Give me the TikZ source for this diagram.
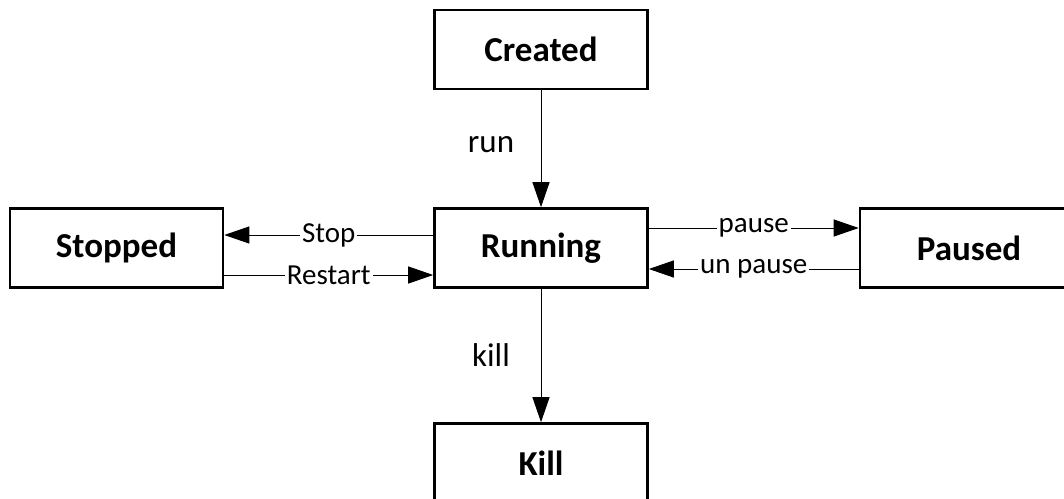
\documentclass[tikz,border=0pt]{standalone}
\usepackage{fontspec}
\setmainfont{Carlito}
\usetikzlibrary{arrows.meta}
\begin{document}
\begin{tikzpicture}[x=1pt,y=-1pt,
  state/.style={draw=black, line width=2.6pt, minimum width=213pt, minimum height=79pt,
    inner sep=0pt, font=\fontsize{35}{40}\selectfont\bfseries},
  arr/.style={line width=1pt, -{Triangle[length=25pt,width=17pt]}},
  elabel/.style={fill=white, inner sep=2pt, font=\fontsize{29}{34}\selectfont},
  vlabel/.style={font=\fontsize{33}{38}\selectfont}]
\useasboundingbox (0,0) rectangle (1064,498);
% states
\node[state] (created) at (541,49.5) {Created};
\node[state] (running) at (541,248) {Running};
\node[state] (stopped) at (116.5,248) {Stopped};
\node[state] (paused)  at (966.5,248) [minimum width=218pt, xshift=2.5pt] {Paused};
\node[state] (kill)    at (541,463) {Kill};
% transitions
\draw[arr] (created.south) -- (running.north);
\draw[arr] (running.south) -- (kill.north);
\node[vlabel] (runlbl) at (491,145) {run};
\node[vlabel] (killlbl) at (491,355) {kill};
\draw[arr] ([yshift=13pt]running.west) -- node[elabel] (stoplbl) {Stop} ([yshift=13pt]stopped.east);
\draw[arr] ([yshift=-27pt]stopped.east) -- node[elabel] (restartlbl) {Restart} ([yshift=-27pt]running.west);
\draw[arr] ([yshift=20pt]running.east) -- node[elabel] (pauselbl) {pause} ([yshift=20pt]paused.west);
\draw[arr] ([yshift=-21pt]paused.west) -- node[elabel] (unpauselbl) {un pause} ([yshift=-21pt]running.east);
\end{tikzpicture}
\end{document}
